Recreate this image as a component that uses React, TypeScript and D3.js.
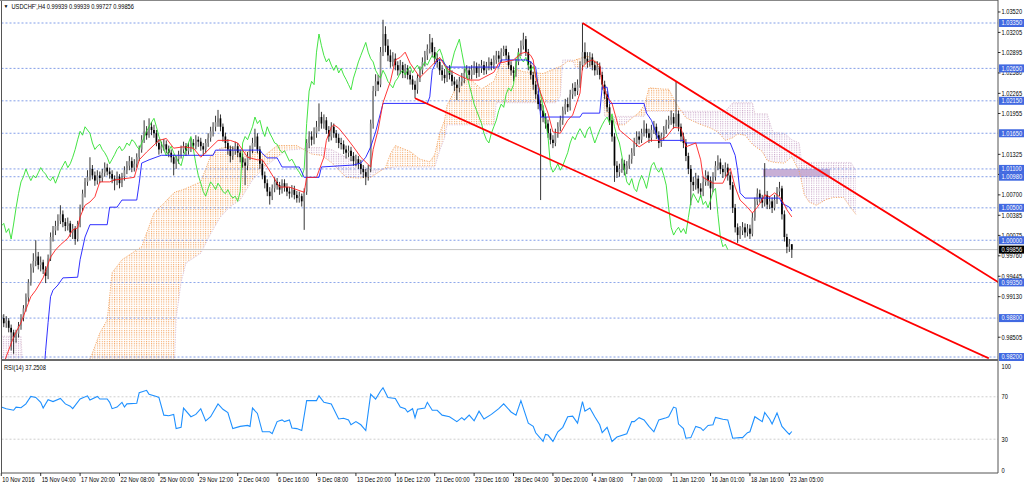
import React from "react";
import * as d3 from "d3";

const symbolTitle = "USDCHF',H4  0.99939 0.99939 0.99727 0.99856";
const rsiTitle = "RSI(14) 37.2508";

// H4 candles (each bar opens at the previous close)
const firstOpen = 0.9885;
const close = [
0.9880,0.9872,0.9876,0.9865,0.9858,0.9850,0.9856,0.9868,0.9880,0.9895,
0.9912,0.9935,0.9958,0.9968,0.9975,0.9962,0.9966,0.9955,0.9945,0.9972,
1.0005,1.0015,1.0022,1.0030,1.0040,1.0028,1.0022,1.0026,1.0012,1.0018,
1.0002,1.0025,1.0050,1.0072,1.0090,1.0098,1.0110,1.0100,1.0092,1.0100,
1.0096,1.0104,1.0112,1.0106,1.0102,1.0095,1.0092,1.0098,1.0088,1.0098,
1.0108,1.0115,1.0122,1.0112,1.0118,1.0128,1.0140,1.0155,1.0168,1.0162,
1.0175,1.0170,1.0165,1.0150,1.0140,1.0145,1.0148,1.0140,1.0135,1.0128,
1.0118,1.0125,1.0132,1.0140,1.0145,1.0138,1.0142,1.0150,1.0146,1.0155,
1.0152,1.0145,1.0140,1.0150,1.0158,1.0168,1.0175,1.0182,1.0188,1.0175,
1.0160,1.0150,1.0140,1.0130,1.0138,1.0145,1.0135,1.0128,1.0120,1.0115,
1.0130,1.0140,1.0150,1.0160,1.0140,1.0118,1.0100,1.0088,1.0075,1.0068,
1.0080,1.0090,1.0085,1.0078,1.0088,1.0082,1.0075,1.0072,1.0078,1.0070,
1.0065,1.0068,1.0060,1.0075,1.0150,1.0160,1.0155,1.0165,1.0175,1.0190,
1.0180,1.0185,1.0170,1.0160,1.0175,1.0165,1.0158,1.0150,1.0148,1.0140,
1.0135,1.0138,1.0130,1.0122,1.0125,1.0118,1.0110,1.0105,1.0098,1.0110,
1.0180,1.0230,1.0245,1.0240,1.0290,1.0318,1.0300,1.0285,1.0275,1.0280,
1.0270,1.0262,1.0270,1.0258,1.0265,1.0255,1.0248,1.0240,1.0232,1.0250,
1.0262,1.0275,1.0285,1.0295,1.0305,1.0290,1.0280,1.0275,1.0262,1.0255,
1.0250,1.0262,1.0255,1.0245,1.0240,1.0235,1.0245,1.0250,1.0258,1.0262,
1.0255,1.0262,1.0268,1.0258,1.0265,1.0270,1.0262,1.0268,1.0275,1.0270,
1.0278,1.0285,1.0280,1.0290,1.0295,1.0285,1.0270,1.0262,1.0258,1.0275,
1.0290,1.0300,1.0310,1.0290,1.0270,1.0255,1.0240,1.0225,1.0210,1.0200,
1.0190,1.0180,1.0165,1.0155,1.0150,1.0165,1.0175,1.0185,1.0200,1.0210,
1.0205,1.0225,1.0235,1.0230,1.0240,1.0270,1.0290,1.0280,1.0275,1.0282,
1.0270,1.0262,1.0268,1.0255,1.0240,1.0225,1.0205,1.0185,1.0160,1.0115,
1.0105,1.0110,1.0118,1.0108,1.0115,1.0125,1.0135,1.0150,1.0160,1.0155,
1.0165,1.0172,1.0165,1.0158,1.0170,1.0175,1.0162,1.0150,1.0160,1.0170,
1.0178,1.0185,1.0190,1.0180,1.0195,1.0175,1.0160,1.0150,1.0130,1.0110,
1.0090,1.0085,1.0095,1.0080,1.0075,1.0090,1.0100,1.0092,1.0080,1.0098,
1.0115,1.0120,1.0110,1.0105,1.0112,1.0100,1.0085,1.0050,1.0020,1.0008,
1.0015,1.0020,1.0012,1.0018,1.0010,1.0035,1.0060,1.0072,1.0065,1.0058,
1.0070,1.0055,1.0060,1.0050,1.0062,1.0075,1.0080,1.0040,1.0005,0.9990,
0.99939,0.99856];
const high = [
0.9892,0.9886,0.9883,0.9880,0.9870,0.9862,0.9862,0.9874,0.9886,0.9900,
0.9918,0.9940,0.9964,0.9980,1.0000,0.9982,0.9975,0.9970,0.9960,0.9978,
1.0012,1.0022,1.0030,1.0040,1.0054,1.0046,1.0034,1.0035,1.0030,1.0025,
1.0022,1.0030,1.0055,1.0078,1.0096,1.0108,1.0128,1.0116,1.0106,1.0108,
1.0106,1.0110,1.0120,1.0118,1.0112,1.0108,1.0100,1.0106,1.0102,1.0104,
1.0114,1.0122,1.0130,1.0128,1.0125,1.0134,1.0146,1.0162,1.0185,1.0176,
1.0188,1.0182,1.0178,1.0170,1.0156,1.0152,1.0156,1.0154,1.0146,1.0140,
1.0132,1.0130,1.0138,1.0146,1.0152,1.0150,1.0150,1.0158,1.0156,1.0162,
1.0160,1.0158,1.0150,1.0156,1.0165,1.0175,1.0182,1.0192,1.0201,1.0194,
1.0180,1.0166,1.0156,1.0146,1.0145,1.0152,1.0150,1.0140,1.0134,1.0126,
1.0136,1.0146,1.0158,1.0172,1.0165,1.0145,1.0124,1.0106,1.0094,1.0082,
1.0086,1.0097,1.0096,1.0090,1.0094,1.0094,1.0088,1.0082,1.0085,1.0084,
1.0076,1.0075,1.0072,1.0080,1.0156,1.0168,1.0168,1.0174,1.0184,1.0211,
1.0198,1.0194,1.0190,1.0176,1.0182,1.0180,1.0170,1.0164,1.0158,1.0154,
1.0146,1.0146,1.0144,1.0136,1.0132,1.0130,1.0124,1.0116,1.0110,1.0116,
1.0186,1.0238,1.0256,1.0255,1.0298,1.0340,1.0330,1.0310,1.0294,1.0290,
1.0288,1.0276,1.0278,1.0275,1.0272,1.0270,1.0262,1.0254,1.0246,1.0256,
1.0268,1.0282,1.0292,1.0302,1.0318,1.0312,1.0298,1.0288,1.0280,1.0270,
1.0264,1.0268,1.0270,1.0262,1.0252,1.0248,1.0252,1.0258,1.0265,1.0270,
1.0268,1.0270,1.0276,1.0274,1.0272,1.0278,1.0276,1.0275,1.0282,1.0280,
1.0285,1.0292,1.0292,1.0296,1.0300,1.0300,1.0290,1.0276,1.0268,1.0280,
1.0296,1.0308,1.0320,1.0315,1.0295,1.0276,1.0260,1.0246,1.0230,1.0216,
1.0208,1.0196,1.0186,1.0172,1.0162,1.0172,1.0182,1.0192,1.0206,1.0218,
1.0220,1.0232,1.0242,1.0244,1.0248,1.0276,1.0335,1.0305,1.0290,1.0290,
1.0288,1.0276,1.0276,1.0274,1.0260,1.0246,1.0230,1.0210,1.0190,1.0165,
1.0122,1.0118,1.0126,1.0124,1.0122,1.0132,1.0142,1.0158,1.0168,1.0168,
1.0172,1.0185,1.0180,1.0172,1.0178,1.0184,1.0180,1.0168,1.0166,1.0176,
1.0186,1.0192,1.0200,1.0196,1.0244,1.0200,1.0180,1.0166,1.0156,1.0135,
1.0116,1.0098,1.0104,1.0100,1.0088,1.0098,1.0108,1.0106,1.0098,1.0105,
1.0122,1.0131,1.0126,1.0116,1.0120,1.0118,1.0106,1.0090,1.0056,1.0026,
1.0022,1.0028,1.0026,1.0025,1.0024,1.0042,1.0066,1.0080,1.0078,1.0070,
1.0119,1.0076,1.0068,1.0066,1.0070,1.0082,1.0090,1.0084,1.0046,1.0010,
1.0002,0.99939];
const low = [
0.9872,0.9866,0.9865,0.9858,0.9830,0.9825,0.9842,0.9850,0.9862,0.9875,
0.9890,0.9905,0.9930,0.9950,0.9960,0.9955,0.9952,0.9948,0.9934,0.9940,
0.9968,0.9998,1.0008,1.0015,1.0025,1.0020,1.0014,1.0015,1.0005,1.0002,
0.9993,0.9998,1.0020,1.0045,1.0066,1.0084,1.0092,1.0094,1.0084,1.0086,
1.0088,1.0090,1.0098,1.0100,1.0095,1.0088,1.0077,1.0085,1.0080,1.0082,
1.0092,1.0102,1.0108,1.0105,1.0106,1.0112,1.0122,1.0135,1.0150,1.0155,
1.0158,1.0162,1.0158,1.0145,1.0132,1.0134,1.0138,1.0134,1.0128,1.0120,
1.0100,1.0110,1.0118,1.0126,1.0134,1.0130,1.0132,1.0136,1.0140,1.0140,
1.0144,1.0138,1.0130,1.0134,1.0144,1.0152,1.0160,1.0168,1.0175,1.0168,
1.0152,1.0142,1.0132,1.0120,1.0124,1.0132,1.0128,1.0120,1.0112,1.0085,
1.0108,1.0124,1.0134,1.0144,1.0134,1.0110,1.0094,1.0080,1.0068,1.0055,
1.0062,1.0074,1.0078,1.0070,1.0072,1.0075,1.0068,1.0064,1.0066,1.0063,
1.0058,1.0058,1.0052,1.0016,1.0070,1.0142,1.0146,1.0148,1.0158,1.0168,
1.0172,1.0172,1.0164,1.0152,1.0154,1.0158,1.0150,1.0142,1.0140,1.0133,
1.0126,1.0128,1.0122,1.0115,1.0114,1.0110,1.0102,1.0096,1.0085,1.0092,
1.0105,1.0172,1.0222,1.0230,1.0236,1.0284,1.0290,1.0276,1.0266,1.0268,
1.0262,1.0254,1.0256,1.0250,1.0250,1.0248,1.0240,1.0232,1.0219,1.0226,
1.0244,1.0256,1.0268,1.0278,1.0288,1.0282,1.0272,1.0266,1.0255,1.0246,
1.0242,1.0244,1.0248,1.0238,1.0230,1.0216,1.0228,1.0238,1.0242,1.0250,
1.0248,1.0248,1.0255,1.0250,1.0252,1.0258,1.0255,1.0256,1.0262,1.0262,
1.0264,1.0272,1.0274,1.0274,1.0284,1.0278,1.0264,1.0254,1.0245,1.0252,
1.0270,1.0284,1.0294,1.0284,1.0262,1.0248,1.0232,1.0218,1.0202,1.0062,
1.0182,1.0172,1.0158,1.0148,1.0142,1.0145,1.0158,1.0168,1.0178,1.0194,
1.0198,1.0200,1.0218,1.0222,1.0224,1.0235,1.0262,1.0272,1.0266,1.0268,
1.0262,1.0254,1.0255,1.0248,1.0232,1.0218,1.0198,1.0178,1.0152,1.0090,
1.0096,1.0098,1.0104,1.0100,1.0102,1.0110,1.0118,1.0130,1.0144,1.0148,
1.0150,1.0160,1.0158,1.0150,1.0152,1.0164,1.0156,1.0142,1.0144,1.0154,
1.0164,1.0172,1.0178,1.0172,1.0175,1.0168,1.0152,1.0142,1.0122,1.0102,
1.0054,1.0076,1.0078,1.0072,1.0066,1.0068,1.0084,1.0084,1.0047,1.0074,
1.0092,1.0108,1.0102,1.0096,1.0098,1.0092,1.0078,1.0042,1.0012,0.9996,
1.0002,1.0008,1.0004,1.0006,1.0002,1.0006,1.0030,1.0054,1.0058,1.0050,
1.0052,1.0048,1.0048,1.0042,1.0046,1.0056,1.0068,1.0032,0.9998,0.9980,
0.9982,0.99727];

// Ichimoku: Tenkan-sen and Kijun-sen as [bar, price]
const tenkan: [number, number][] = [
[0,0.9800],[5,0.9851],[8,0.9873],[10,0.9893],[12,0.9913],[14,0.9923],[17,0.9942],[20,0.9974],[22,0.9985],[24,0.9993],
[27,1.0003],[29,1.0016],[31,1.0019],[32,1.0036],[34,1.0054],[36,1.0059],[38,1.0067],[40,1.0090],[44,1.0090],[46,1.0093],
[52,1.0096],[54,1.0097],[56,1.0124],[59,1.0136],[64,1.0154],[67,1.0157],[70,1.0142],[74,1.0144],[78,1.0142],[81,1.0128],
[88,1.0154],[93,1.0154],[96,1.0150],[100,1.0128],[104,1.0124],[106,1.0124],[108,1.0113],[113,1.0082],[117,1.0082],[123,1.0074],
[124,1.0097],[128,1.0097],[131,1.0128],[132,1.0154],[134,1.0174],[135,1.0178],[137,1.0173],[140,1.0159],[143,1.0144],[146,1.0128],
[150,1.0113],[151,1.0140],[153,1.0170],[155,1.0212],[158,1.0245],[160,1.0278],[162,1.0282],[164,1.0290],[166,1.0273],[168,1.0262],
[170,1.0251],[175,1.0270],[178,1.0282],[180,1.0270],[182,1.0262],[186,1.0254],[190,1.0247],[194,1.0247],[200,1.0259],[202,1.0273],
[208,1.0278],[211,1.0288],[213,1.0290],[215,1.0285],[216,1.0278],[217,1.0251],[219,1.0227],[222,1.0196],[224,1.0167],[227,1.0165],
[230,1.0185],[232,1.0193],[235,1.0227],[236,1.0267],[238,1.0275],[240,1.0278],[243,1.0270],[244,1.0242],[246,1.0221],[248,1.0211],
[251,1.0170],[256,1.0154],[259,1.0144],[263,1.0154],[267,1.0154],[270,1.0159],[273,1.0174],[276,1.0173],[278,1.0144],[282,1.0150],
[284,1.0124],[285,1.0097],[289,1.0088],[293,1.0088],[295,1.0104],[296,1.0111],[298,1.0082],[300,1.0062],[303,1.0051],[305,1.0042],
[307,1.0051],[309,1.0062],[310,1.0070],[312,1.0067],[314,1.0073],[316,1.0067],[317,1.0062],[319,1.0047],[321,1.0036]];
const kijun: [number, number][] = [
[17,0.9780],[18,0.9830],[19,0.9873],[20,0.9913],[21,0.9923],[23,0.9931],[25,0.9942],[31,0.9943],[32,0.9970],[34,1.0005],
[36,1.0024],[43,1.0024],[44,1.0051],[47,1.0051],[49,1.0062],[55,1.0062],[56,1.0088],[57,1.0119],[60,1.0124],[65,1.0131],
[86,1.0131],[87,1.0139],[105,1.0139],[106,1.0134],[108,1.0127],[112,1.0127],[114,1.0113],[121,1.0113],[123,1.0097],[129,1.0097],
[130,1.0113],[143,1.0116],[146,1.0119],[148,1.0128],[150,1.0144],[152,1.0167],[155,1.0211],[173,1.0211],[174,1.0221],[175,1.0262],
[177,1.0278],[179,1.0278],[181,1.0267],[202,1.0267],[203,1.0278],[213,1.0278],[215,1.0275],[217,1.0267],[218,1.0236],[219,1.0190],
[235,1.0190],[236,1.0196],[243,1.0196],[244,1.0236],[246,1.0236],[247,1.0211],[261,1.0211],[262,1.0196],[264,1.0185],[267,1.0154],
[277,1.0154],[278,1.0150],[296,1.0150],[298,1.0131],[299,1.0108],[300,1.0073],[302,1.0065],[316,1.0065],[317,1.0057],[320,1.0051],
[321,1.0045]];
const chikouShift = 26;

// Kumo (Senkou Span A / B), shifted 26 bars ahead
const cloudBars = [0,8,9,34,37,40,43,45,49,53,57,59,62,66,70,71,73,75,81,85,89,93,97,102,107,112,116,120,126,130,
134,140,145,150,156,158,160,166,170,174,176,178,180,181,185,190,195,200,201,203,207,212,220,225,227,228,230,232,233,238,
242,244,245,246,250,253,256,259,261,262,263,269,271,274,278,283,288,291,294,297,299,302,305,306,309,311,313,314,318,321,
324,325,326,328,331,335,338,342,345,347];
const spanA = [0.9780,0.9785,0.9790,0.9800,0.9826,0.9857,0.9877,0.9950,0.9970,0.9980,0.9990,1.0011,1.0042,1.0057,1.0073,1.0075,1.0077,1.0080,1.0090,1.0130,
1.0142,1.0144,1.0137,1.0137,1.0131,1.0146,1.0146,1.0146,1.0133,1.0131,1.0120,1.0097,1.0096,1.0097,1.0112,1.0133,1.0146,1.0137,1.0125,1.0121,
1.0132,1.0165,1.0185,1.0208,1.0238,1.0250,1.0233,1.0245,1.0255,1.0278,1.0266,1.0260,1.0257,1.0265,1.0268,1.0270,1.0276,1.0276,1.0278,1.0284,
1.0275,1.0245,1.0222,1.0200,1.0178,1.0178,1.0188,1.0197,1.0208,1.0220,1.0235,1.0233,1.0233,1.0211,1.0189,1.0180,1.0173,1.0167,1.0154,1.0158,
1.0164,1.0162,1.0148,1.0145,1.0137,1.0123,1.0121,1.0120,1.0119,1.0129,1.0106,1.0090,1.0071,1.0059,1.0054,1.0063,1.0066,1.0066,1.0050,1.0040];
const spanB = [0.9852,0.9852,0.9780,0.9775,0.9775,0.9775,0.9775,0.9775,0.9775,0.9775,0.9775,0.9775,0.9775,0.9775,0.9775,0.9880,0.9935,0.9965,0.9980,1.0010,
1.0036,1.0052,1.0062,1.0093,1.0113,1.0128,1.0139,1.0140,1.0143,1.0143,1.0140,1.0128,1.0118,1.0108,1.0110,1.0112,1.0113,1.0113,1.0113,1.0113,
1.0113,1.0138,1.0158,1.0178,1.0178,1.0178,1.0178,1.0178,1.0212,1.0212,1.0212,1.0212,1.0212,1.0212,1.0222,1.0278,1.0278,1.0278,1.0267,1.0267,
1.0267,1.0267,1.0191,1.0191,1.0191,1.0191,1.0191,1.0191,1.0191,1.0199,1.0199,1.0199,1.0199,1.0199,1.0199,1.0199,1.0199,1.0199,1.0199,1.0212,
1.0212,1.0212,1.0212,1.0195,1.0195,1.0195,1.0170,1.0166,1.0165,1.0155,1.0150,1.0120,1.0120,1.0120,1.0120,1.0120,1.0120,1.0120,1.0120,1.0108];

// RSI(14) as [bar, value]
const rsi: [number, number][] = [
[0,60.3],[2,58.8],[5,57.3],[6,60.3],[8,59.7],[10,63.3],[12,70.3],[14,69.4],[16,64.8],[17,59.4],[19,67.3],[21,65.5],[24,68.5],[26,63.3],
[28,61.2],[29,58.8],[32,67.9],[35,70.9],[36,67],[39,70.3],[40,67.9],[43,67.9],[44,64.8],[45,58.8],[47,60.3],[49,64.8],[50,60.3],[51,63.3],
[55,63.9],[56,73.9],[59,76.1],[60,72.4],[63,70.3],[64,69.4],[66,52.7],[68,52.1],[70,53.4],[71,40],[73,41.2],[74,59.4],[77,51.2],[79,53.4],
[81,58.8],[83,47.3],[85,51.2],[88,63.3],[90,58.2],[92,55.2],[94,40],[97,42.1],[100,43],[101,42.1],[102,59.4],[104,54.3],[106,37],[109,37],
[110,35.2],[112,46.6],[114,48.2],[115,46.6],[117,48.2],[118,40.6],[120,40],[122,38.2],[124,66.4],[128,66.4],[129,70.9],[131,64.8],[134,63.3],
[137,49.1],[139,49.7],[141,48.2],[142,43.6],[144,46.6],[146,43.6],[148,38.2],[150,72.4],[152,67.9],[154,75.5],[155,78.5],[157,69.4],[160,68.5],
[162,60.3],[164,58.8],[165,55.7],[167,58.8],[168,50.3],[169,58.2],[172,59.4],[173,64.8],[175,57.3],[177,57.3],[179,52.7],[182,51.2],[185,46.6],
[187,50.3],[188,48.2],[190,52.7],[192,47.3],[194,56.4],[196,49.1],[199,53.4],[202,58.8],[204,63.3],[207,55.7],[209,52.7],[211,66.4],[214,45.2],
[216,42.1],[217,36.1],[220,27.9],[221,34.5],[222,33.9],[224,27.9],[226,37],[228,41.2],[230,51.2],[232,51.8],[234,45.2],[236,65.5],[237,56.4],
[239,59.4],[241,51.2],[243,43.6],[244,36.1],[246,41.2],[248,27.9],[250,32.1],[254,35.2],[256,46.6],[257,46.6],[259,50.3],[261,48.2],[263,42.1],
[265,37],[267,48.2],[270,50.3],[271,51.2],[273,60.3],[274,59.4],[275,44.3],[277,40],[278,30.9],[280,31.5],[282,42.1],[284,40.6],[285,38.2],
[287,43],[289,43.6],[290,50.6],[293,48.8],[295,48.2],[297,30.9],[300,31.5],[301,31.5],[303,36.1],[304,37],[306,51.2],[309,46.6],[310,55.2],
[312,48.8],[313,44.3],[315,54.8],[317,42.1],[319,37],[320,34.5],[321,37.2508]];

const levelPrices = [1.0335, 1.0265, 1.0215, 1.0165, 1.011, 1.0098, 1.005, 1.0, 0.9935, 0.988, 0.982];
const priceTicks = [1.0352, 1.03205, 1.02895, 1.0258, 1.02265, 1.01955, 1.01325, 1.01015, 1.007, 1.00385, 1.00075, 0.9976, 0.99445, 0.9913, 0.98505];
const lastPrice = 0.99856;
const timeLabelBars = [0,16,32,48,64,80,96,112,128,144,160,176,192,208,224,240,256,272,288,304,320];
const timeLabels = ["10 Nov 2016","15 Nov 04:00","17 Nov 20:00","22 Nov 08:00","25 Nov 00:00","29 Nov 12:00","2 Dec 04:00","6 Dec 16:00","9 Dec 08:00","13 Dec 20:00","16 Dec 12:00","21 Dec 00:00","23 Dec 16:00","28 Dec 04:00","30 Dec 20:00","4 Jan 08:00","7 Jan 00:00","11 Jan 12:00","16 Jan 01:00","18 Jan 16:00","23 Jan 05:00"];
const upperTrend: [number, number][] = [[236, 1.0335], [405, 0.9935]];
const lowerTrend: [number, number][] = [[168, 1.0219], [401, 0.9818]];
const zoneBars = [309.3, 336.5];
const zonePrices = [1.0098, 1.011];
const rsiLevels = [70, 30];
const rsiAxisLabels = [100, 70, 30, 0];

type C = { b: number; a: number; s: number };

const F = "'Liberation Sans',Arial,sans-serif";
const FS = 6.8;
// narrow text (the terminal's axis font is condensed)
function T(props: { x: number; y: number; fill?: string; size?: number; children: React.ReactNode }) {
  return (
    <text transform={`translate(${props.x},${props.y}) scale(0.84,1)`} fontSize={props.size || FS} fill={props.fill || "#000"} fontFamily={F}>
      {props.children}
    </text>
  );
}

export default function App() {
  const x = d3.scaleLinear().domain([0, 321]).range([1.3, 791.8]);
  const y = d3.scaleLinear().domain([0.982, 1.0335]).range([357, 23]);
  const yr = d3.scaleLinear().domain([0, 100]).range([471, 365]);
  const open = close.map((c, i) => (i === 0 ? firstOpen : close[i - 1]));
  const pLine = d3.line<[number, number]>().x(d => x(d[0])).y(d => y(d[1]));
  const cloud: C[] = cloudBars.map((b, i) => ({ b, a: spanA[i], s: spanB[i] }));
  const band = d3.area<C>().x(d => x(d.b)).y0(d => y(d.s)).y1(d => y(d.a));
  const aboveB = d3.area<C>().x(d => x(d.b)).y0(-10).y1(d => y(d.s));
  const belowB = d3.area<C>().x(d => x(d.b)).y0(d => y(d.s)).y1(420);
  const lineA = d3.line<C>().x(d => x(d.b)).y(d => y(d.a));
  const lineB = d3.line<C>().x(d => x(d.b)).y(d => y(d.s));
  const chikou = close.slice(chikouShift).map((c, i) => [i, c] as [number, number]);
  const rsiPath = d3.line<[number, number]>().x(d => x(d[0])).y(d => yr(d[1]))(rsi) || "";
  const L = 1.5, R = 998, MB = 359, RB = 473;
  const bw = x(1) - x(0);

  return (
    <svg width={1024} height={487} style={{ position: "absolute", left: 0, top: 0, display: "block" }} fontFamily={F}>
      <defs>
        <clipPath id="mainClip"><rect x={L} y={1} width={R - L} height={MB - 1} /></clipPath>
        <clipPath id="rsiClip"><rect x={L} y={361} width={R - L} height={RB - 361} /></clipPath>
        <clipPath id="aboveB"><path d={aboveB(cloud) || ""} /></clipPath>
        <clipPath id="belowB"><path d={belowB(cloud) || ""} /></clipPath>
        <pattern id="hatchA" patternUnits="userSpaceOnUse" x={x(0) - 0.5} y={0} width={bw} height={2.2}>
          <rect width={1} height={1.1} fill="#F4A460" />
        </pattern>
        <pattern id="hatchB" patternUnits="userSpaceOnUse" x={x(0) - 0.5} y={0} width={bw} height={2.2}>
          <rect width={1} height={1.1} fill="#C9A6C9" />
        </pattern>
      </defs>
      <rect x={0} y={0} width={1024} height={487} fill="#fff" />

      <g clipPath="url(#mainClip)">
        <rect x={x(zoneBars[0])} y={y(zonePrices[1])} width={x(zoneBars[1]) - x(zoneBars[0])} height={y(zonePrices[0]) - y(zonePrices[1])} fill="#c8afd6" />
        <g clipPath="url(#aboveB)"><path d={band(cloud) || ""} fill="url(#hatchA)" /></g>
        <g clipPath="url(#belowB)"><path d={band(cloud) || ""} fill="url(#hatchB)" /></g>
        <path d={lineA(cloud) || ""} fill="none" stroke="#F4A460" strokeWidth={0.9} strokeDasharray="1.2 1.3" />
        <path d={lineB(cloud) || ""} fill="none" stroke="#D8BFD8" strokeWidth={0.9} strokeDasharray="1.2 1.3" />
        {levelPrices.map((p, i) => (
          <line key={"lv" + i} x1={L} x2={R} y1={y(p)} y2={y(p)} stroke="#4a72de" strokeWidth={0.8} strokeDasharray="2 2" opacity={0.85} />
        ))}
        <line x1={L} x2={R} y1={y(lastPrice)} y2={y(lastPrice)} stroke="#c4c4c4" strokeWidth={1} />
        {close.map((c, i) => {
          const o = open[i];
          const cx = x(i);
          const yt = y(Math.max(o, c));
          const yb = y(Math.min(o, c));
          return (
            <g key={"c" + i}>
              <line x1={cx} x2={cx} y1={y(high[i])} y2={y(low[i])} stroke="#000" strokeWidth={0.8} />
              <rect x={cx - 0.85} y={yt} width={1.7} height={Math.max(0.8, yb - yt)} fill={c >= o ? "#8a8a8a" : "#000"} />
            </g>
          );
        })}
        <path d={pLine(chikou) || ""} fill="none" stroke="#2fe02f" strokeWidth={0.9} />
        <path d={pLine(kijun) || ""} fill="none" stroke="#1a1aff" strokeWidth={0.9} />
        <path d={pLine(tenkan) || ""} fill="none" stroke="#ff2020" strokeWidth={0.9} />
        <path d={pLine(upperTrend) || ""} fill="none" stroke="#ff0000" strokeWidth={1.8} />
        <path d={pLine(lowerTrend) || ""} fill="none" stroke="#ff0000" strokeWidth={1.8} />
      </g>

      {/* RSI panel */}
      <g clipPath="url(#rsiClip)">
        {rsiLevels.map((v, i) => (
          <line key={"rl" + i} x1={L} x2={R} y1={yr(v)} y2={yr(v)} stroke="#c8c8c8" strokeWidth={0.9} strokeDasharray="2 2" />
        ))}
        <path d={rsiPath} fill="none" stroke="#1E90FF" strokeWidth={1.1} />
      </g>
      <T x={4} y={370}>{rsiTitle}</T>

      {/* frames */}
      <line x1={L} x2={L} y1={0} y2={RB} stroke="#555" strokeWidth={1} />
      <line x1={0} x2={R} y1={0.5} y2={0.5} stroke="#888" strokeWidth={1} />
      <line x1={R} x2={R} y1={0} y2={RB} stroke="#555" strokeWidth={1} />
      <rect x={L} y={MB} width={R - L} height={2} fill="#6a6a6a" />
      <line x1={L} x2={R} y1={RB} y2={RB} stroke="#555" strokeWidth={1} />

      {/* price axis */}
      {priceTicks.map((p, i) => (
        <g key={"pt" + i}>
          <line x1={R} x2={R + 2.5} y1={y(p)} y2={y(p)} stroke="#000" strokeWidth={0.8} />
          <T x={1001.5} y={y(p) + 2.4}>{p.toFixed(5)}</T>
        </g>
      ))}
      {levelPrices.map((p, i) => (
        <g key={"pl" + i}>
          <rect x={999} y={y(p) - 4} width={25} height={8} fill="#4169e1" />
          <T x={1001.5} y={y(p) + 2.4} fill="#fff">{p.toFixed(5)}</T>
        </g>
      ))}
      <rect x={999} y={y(lastPrice) - 4} width={25} height={8} fill="#000" />
      <T x={1001.5} y={y(lastPrice) + 2.4} fill="#fff">{lastPrice.toFixed(5)}</T>

      {rsiAxisLabels.map((v, i) => (
        <T key={"ra" + i} x={1001.5} y={Math.min(471, Math.max(367, yr(v))) + 2.4}>{String(v)}</T>
      ))}

      {/* time axis */}
      {timeLabelBars.map((b, i) => (
        <g key={"tl" + i}>
          <line x1={x(b)} x2={x(b)} y1={RB} y2={RB + 3} stroke="#000" strokeWidth={0.8} />
          <T x={x(b) + 1} y={482}>{timeLabels[i]}</T>
        </g>
      ))}

      {/* title */}
      <text x={3.5} y={8} fontSize={5} fill="#000">▼</text>
      <T x={11.5} y={8.5}>{symbolTitle}</T>
    </svg>
  );
}
